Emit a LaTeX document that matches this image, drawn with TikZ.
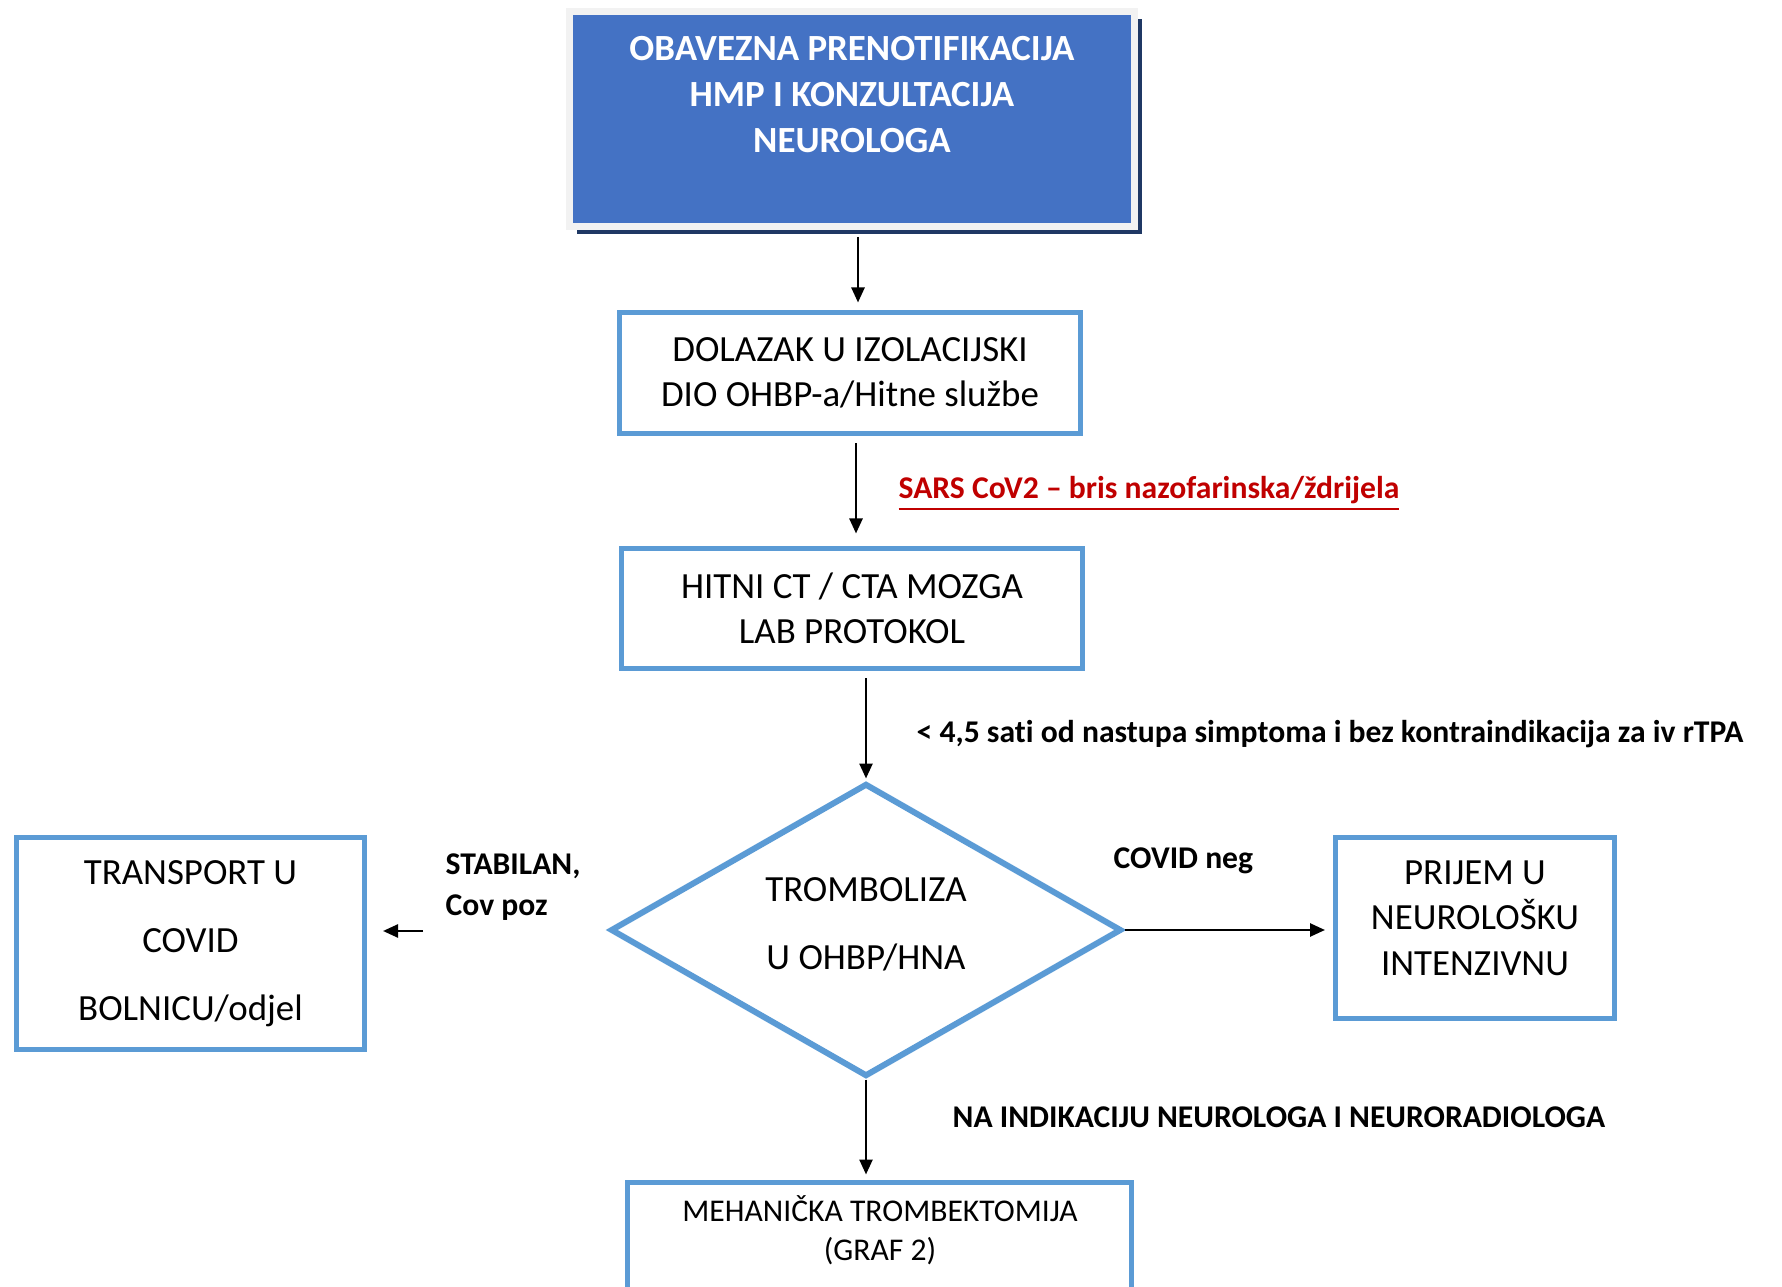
\documentclass[tikz,border=0pt]{standalone}
\usepackage{fontspec}
\setmainfont[Ligatures={NoCommon,NoContextual,NoRare}, Contextuals=NoAlternate]{Carlito}
\usepackage{tikz}
\usetikzlibrary{shapes.geometric,arrows.meta,calc,shadows}

\definecolor{boxblue}{HTML}{5B9BD5}
\definecolor{fillblue}{HTML}{4472C4}
\definecolor{navyshadow}{HTML}{1F3864}
\definecolor{rimgray}{HTML}{F2F2F2}
\definecolor{alertred}{HTML}{C00000}

\tikzset{
    flowbox/.style={draw=boxblue, line width=0.5mm, rectangle, align=center, inner sep=0pt,
        font=\fontsize{10.5}{12.9}\selectfont},
    boxtxt/.style={align=center, inner sep=0pt, font=\fontsize{10.5}{12.9}\selectfont},
    lbl/.style={font=\fontsize{9}{11.7}\selectfont\bfseries, inner sep=0pt, anchor=west},
    arr/.style={line width=0.25mm, -{Triangle[length=1.5mm, width=1.3mm]}},
}

\begin{document}
\begin{tikzpicture}[x=0.1mm, y=-0.1mm]
    \useasboundingbox (0,0) rectangle (1782,1287);
    \clip (0,0) rectangle (1782,1287);

    % Top box
    \node [rectangle, fill=fillblue, draw=rimgray, line width=0.7mm, minimum width=56.5mm, minimum height=21.5mm,
        drop shadow={fill=navyshadow, opacity=1, shadow xshift=0.75mm, shadow yshift=-0.75mm}] (notif) at (852,119) {};
    \node [boxtxt, text=white, font=\fontsize{10.5}{13.1}\selectfont\bfseries] (notiftxt) at (852,95)
        {OBAVEZNA PRENOTIFIKACIJA\\HMP I KONZULTACIJA\\NEUROLOGA};

    % Main column
    \node [flowbox, minimum width=46.1mm, minimum height=12.1mm] (dol) at (850,373) {DOLAZAK U IZOLACIJSKI\\DIO OHBP-a/Hitne službe};
    \node [flowbox, minimum width=46.1mm, minimum height=12.0mm] (ct) at (852,608.5) {HITNI CT / CTA MOZGA\\LAB PROTOKOL};
    \node [diamond, draw=boxblue, line width=0.6mm, inner sep=0pt, minimum width=51.1mm, minimum height=29.3mm] (tromb) at (866,930) {};
    \node [boxtxt, font=\fontsize{10.5}{19.3}\selectfont] (trombtxt) at (866,924) {TROMBOLIZA\\U OHBP/HNA};
    \node [flowbox, minimum width=50.4mm, minimum height=24mm, anchor=north] (mech) at (879.5,1179.5) {};
    \node [boxtxt, font=\fontsize{9}{11.1}\selectfont] (mechtxt) at (880,1230.5) {MEHANIČKA TROMBEKTOMIJA\\(GRAF 2)};

    % Side boxes
    \node [flowbox, minimum width=34.8mm, minimum height=21.2mm, font=\fontsize{10.5}{19.3}\selectfont] (transport) at (190.5,943.5) {TRANSPORT U\\COVID\\BOLNICU/odjel};
    \node [flowbox, minimum width=27.9mm, minimum height=18.1mm] (prijem) at (1475,928) {};
    \node [boxtxt] (prijemtxt) at (1475,918) {PRIJEM U\\NEUROLOŠKU\\INTENZIVNU};

    % Labels
    \node [lbl, text=alertred] (sarslbl) at (898,494) {\underline{SARS CoV2 – bris nazofarinska/ždrijela}};
    \node [lbl] (timelbl) at (916,734) {< 4,5 sat\kern0pt i od nastupa simptoma i bez kontraindikacija za iv rTPA};
    \node [lbl] (neglbl) at (1113,861) {COVID neg};
    \node [lbl, align=left] (stablbl) at (445,887.5) {STABILAN,\\Cov poz};
    \node [lbl] (indlbl) at (952,1117) {NA INDIKACIJU NEUROLOGA I NEURORADIOLOGA};

    % Arrows
    \draw [arr, shorten <=0.7mm, shorten >=0.75mm] ($(notif.south)+(6,0)$) -- ($(dol.north)+(8,0)$);
    \draw [arr, shorten <=0.75mm, shorten >=1.25mm] ($(dol.south)+(6,0)$) -- ($(ct.north)+(4,0)$);
    \draw [arr, shorten <=0.75mm, shorten >=0.2mm] (tromb.north |- ct.south) -- (tromb.north);
    \draw [arr, shorten >=0.8mm] (tromb.east) -- ($(prijem.west)+(0,2)$);
    \draw [arr, shorten >=0.5mm] (tromb.south) -- (tromb.south |- mech.north);
    \coordinate (stabfrom) at (423,931);
    \coordinate (stabto) at (383,931);
    \draw [arr] (stabfrom) -- (stabto);
\end{tikzpicture}
\end{document}
